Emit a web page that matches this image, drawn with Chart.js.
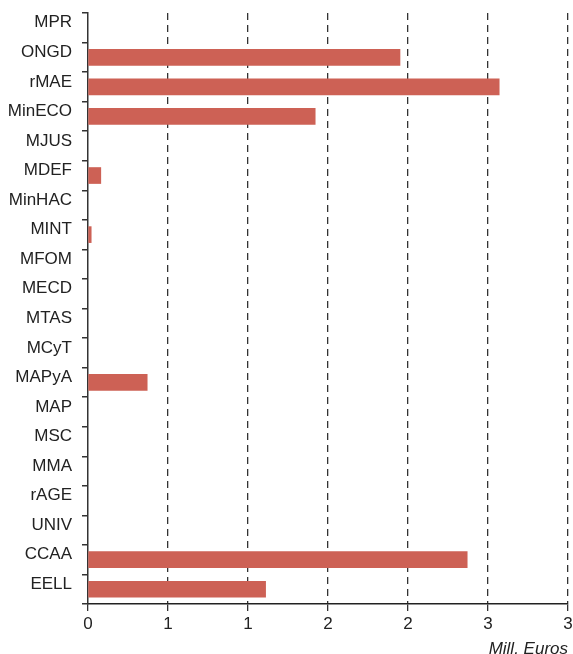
<!DOCTYPE html>
<html lang="es">
<head>
    <meta charset="UTF-8">
    <title>Mill. Euros por organismo</title>
    <script src="https://cdn.jsdelivr.net/npm/chart.js"></script>
    <style>
        body {
            margin: 0;
            background-color: #fff;
        }
        #wrap {
            width: 573px;
            height: 654px;
        }
    </style>
</head>
<body>
    <div id="wrap">
        <canvas id="chart" width="573" height="654"></canvas>
    </div>

    <script>
        const categories = ['MPR', 'ONGD', 'rMAE', 'MinECO', 'MJUS', 'MDEF', 'MinHAC', 'MINT', 'MFOM', 'MECD',
                            'MTAS', 'MCyT', 'MAPyA', 'MAP', 'MSC', 'MMA', 'rAGE', 'UNIV', 'CCAA', 'EELL'];
        const values = [0, 1.95, 2.57, 1.42, 0, 0.08, 0, 0.02, 0, 0,
                        0, 0, 0.37, 0, 0, 0, 0, 0, 2.37, 1.11];
        // las etiquetas del eje salen redondeadas en el original (0.5 -> 1, etc.)
        const xTickLabels = ['0', '1', '1', '2', '2', '3', '3'];
        const axisTitle = 'Mill. Euros';

        const font = "'Liberation Sans', Arial, sans-serif";

        new Chart(document.getElementById('chart').getContext('2d'), {
            type: 'bar',
            data: {
                labels: categories,
                datasets: [{
                    data: values,
                    // sin rayita roja en las barras a cero
                    backgroundColor: ctx => ctx.raw > 0 ? '#cd6155' : 'rgba(0,0,0,0)',
                    barThickness: 16
                }]
            },
            options: {
                indexAxis: 'y',
                responsive: false,
                animation: false,
                layout: { padding: { top: 13, right: 5, left: 0, bottom: 0 } },
                plugins: {
                    legend: { display: false },
                    tooltip: { enabled: false }
                },
                scales: {
                    x: {
                        min: 0,
                        max: 3,
                        ticks: {
                            stepSize: 0.5,
                            padding: 3,
                            color: '#222',
                            font: { family: font, size: 17 },
                            callback: (v, i) => xTickLabels[i]
                        },
                        grid: {
                            color: ctx => ctx.index === 0 ? 'rgba(0,0,0,0)' : '#333',
                            lineWidth: 1.3,
                            tickColor: '#333',
                            tickLength: 7,
                            tickBorderDash: [7, 5]
                        },
                        // en v4 el dash de la rejilla va en border.dash
                        border: { display: true, color: '#222', width: 1.5, dash: [7, 5] },
                        title: {
                            display: true,
                            text: axisTitle,
                            align: 'end',
                            color: '#222',
                            font: { family: font, size: 17, style: 'italic' },
                            padding: { top: 0, bottom: -5 }
                        },
                        afterFit: scale => {
                            scale.height = 50;
                            scale.paddingLeft = 0;
                            scale.paddingRight = 0;
                        }
                    },
                    y: {
                        offset: true,
                        ticks: {
                            padding: 10,
                            labelOffset: -5,
                            color: '#222',
                            font: { family: font, size: 17 },
                            autoSkip: false
                        },
                        grid: {
                            offset: true,
                            drawOnChartArea: false,
                            tickLength: 6,
                            color: '#333',
                            lineWidth: 1.5
                        },
                        border: { display: true, color: '#333', width: 1.5 },
                        afterFit: scale => {
                            scale.width = 88;
                            scale.paddingTop = 0;
                            scale.paddingBottom = 0;
                        }
                    }
                }
            }
        });
    </script>
</body>
</html>
